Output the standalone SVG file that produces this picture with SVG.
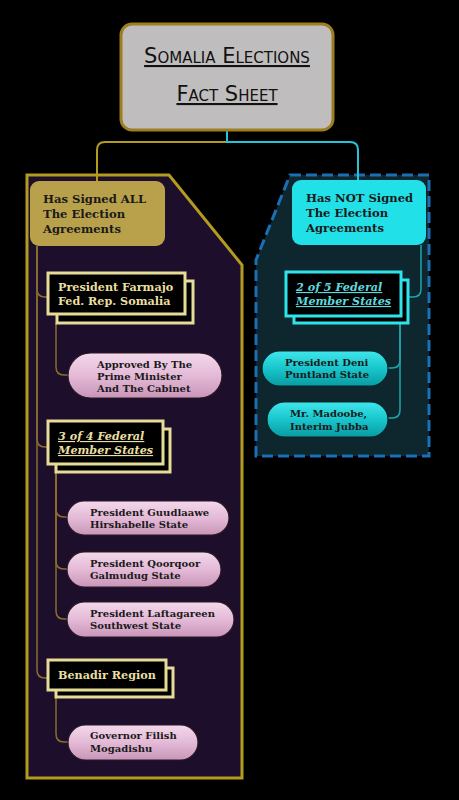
<svg xmlns="http://www.w3.org/2000/svg" width="459" height="800" viewBox="0 0 459 800">
<defs>
<linearGradient id="pink" x1="0" y1="0" x2="0" y2="1">
<stop offset="0" stop-color="#f3d8eb"/>
<stop offset="0.5" stop-color="#e4bad7"/>
<stop offset="1" stop-color="#c995b9"/>
</linearGradient>
<linearGradient id="cyan" x1="0" y1="0" x2="0" y2="1">
<stop offset="0" stop-color="#3fe6ea"/>
<stop offset="0.5" stop-color="#17c6cc"/>
<stop offset="1" stop-color="#0a9ba2"/>
</linearGradient>
<style>
.t{font-family:"DejaVu Serif","Liberation Serif",serif;font-weight:bold;}
.dark{fill:#1a1a1a;font-size:11.6px;}
.pl{fill:#1a1a1a;font-size:10px;}
.cream{fill:#e9dfa0;font-size:11.2px;}
.cy{fill:#5fd9df;font-size:11.2px;}
.it{font-style:italic;text-decoration:underline;}
.pill{fill:url(#pink);stroke:#2a1a24;stroke-width:1.2;}
.cpill{fill:url(#cyan);stroke:#06262a;stroke-width:1.2;}
.gbox{fill:#000;stroke:#e6dc98;stroke-width:3;}
.cbox{fill:#000;stroke:#2ee4ec;stroke-width:3;}
.gl{fill:none;stroke:#8b6d2e;stroke-width:1.5;}
.cl{fill:none;stroke:#1ba6ae;stroke-width:1.5;}
.ttl{font-family:"DejaVu Sans","Liberation Sans",sans-serif;font-size:21px;font-variant:small-caps;fill:#111;text-decoration:underline;}
</style>
</defs>
<rect width="459" height="800" fill="#000"/>

<g id="containers">
<path d="M27,175 H169 L242,265 V778 H27 Z" fill="#1d0e2b" stroke="#b39b1f" stroke-width="3"/>
<path d="M290,175 H429 V456 H256 V260 Z" fill="#0e262e" stroke="#1a6fb5" stroke-width="3" stroke-dasharray="11,5"/>
</g>

<g id="connectors">
<path d="M227,130 V142 H105 Q97,142 97,150 V181" fill="none" stroke="#b39b1f" stroke-width="2"/>
<path d="M227,130 V142 H350 Q358,142 358,150 V180" fill="none" stroke="#26c3d6" stroke-width="2"/>
<path class="gl" d="M37,246 V289 Q37,297 45,297 H48"/>
<path class="gl" d="M37,246 V439 Q37,447 45,447 H48"/>
<path class="gl" d="M37,246 V670 Q37,678 45,678 H48"/>
<path class="gl" d="M56,323 V367 Q56,375 64,375 H68"/>
<path class="gl" d="M56,472 V509 Q56,517 64,517 H67"/>
<path class="gl" d="M56,472 V561 Q56,569 64,569 H67"/>
<path class="gl" d="M56,472 V611 Q56,619 64,619 H67"/>
<path class="gl" d="M56,697 V734 Q56,742 64,742 H68"/>
<path class="cl" d="M421,245 V289 Q421,297 413,297 H408"/>
<path class="cl" d="M400,323 V360 Q400,368 392,368 H388"/>
<path class="cl" d="M400,323 V410 Q400,418 392,418 H388"/>
</g>

<g id="title">
<rect x="121" y="24" width="212" height="106" rx="11" fill="#c0bdbe" stroke="#9e7f1f" stroke-width="3"/>
<text class="ttl" x="227" y="63" text-anchor="middle">Somalia Elections</text>
<text class="ttl" x="227" y="101" text-anchor="middle">Fact Sheet</text>
</g>

<g id="signed">
<rect x="30" y="181" width="135" height="65" rx="9" fill="#b9a14c"/>
<text class="t dark" x="43" y="203">Has Signed ALL</text>
<text class="t dark" x="43" y="218">The Election</text>
<text class="t dark" x="43" y="233">Agreements</text>
</g>

<g id="farmajo">
<rect class="gbox" x="57" y="281" width="136" height="42"/>
<rect class="gbox" x="48" y="273" width="137" height="41"/>
<text class="t cream" x="58" y="291">President Farmajo</text>
<text class="t cream" x="58" y="305">Fed. Rep. Somalia</text>
</g>

<g id="approved">
<rect class="pill" x="68" y="353" width="154" height="45" rx="22.5"/>
<text class="t pl" x="97" y="368">Approved By The</text>
<text class="t pl" x="97" y="380">Prime Minister</text>
<text class="t pl" x="97" y="392">And The Cabinet</text>
</g>

<g id="three-of-four">
<rect class="gbox" x="56" y="429" width="114" height="43"/>
<rect class="gbox" x="48" y="421" width="115" height="43"/>
<text class="t cream it" x="58" y="440">3 of 4 Federal</text>
<text class="t cream it" x="58" y="454">Member States</text>
</g>

<g id="guudlaawe">
<rect class="pill" x="67" y="501" width="162" height="34" rx="17"/>
<text class="t pl" x="90" y="516">President Guudlaawe</text>
<text class="t pl" x="90" y="528">Hirshabelle State</text>
</g>

<g id="qoorqoor">
<rect class="pill" x="67" y="552" width="154" height="35" rx="17.5"/>
<text class="t pl" x="90" y="567">President Qoorqoor</text>
<text class="t pl" x="90" y="579">Galmudug State</text>
</g>

<g id="laftagareen">
<rect class="pill" x="67" y="602" width="167" height="35" rx="17.5"/>
<text class="t pl" x="90" y="617">President Laftagareen</text>
<text class="t pl" x="90" y="629">Southwest State</text>
</g>

<g id="benadir">
<rect class="gbox" x="56" y="668" width="117" height="29"/>
<rect class="gbox" x="48" y="660" width="118" height="30"/>
<text class="t cream" x="58" y="679">Benadir Region</text>
</g>

<g id="filish">
<rect class="pill" x="68" y="725" width="130" height="35" rx="17.5"/>
<text class="t pl" x="90" y="739">Governor Filish</text>
<text class="t pl" x="90" y="752">Mogadishu</text>
</g>

<g id="not-signed">
<rect x="292" y="180" width="134" height="65" rx="9" fill="#22e0e8"/>
<text class="t dark" x="306" y="202">Has NOT Signed</text>
<text class="t dark" x="306" y="217">The Election</text>
<text class="t dark" x="306" y="232">Agreements</text>
</g>

<g id="two-of-five">
<rect class="cbox" x="294" y="280" width="114" height="43"/>
<rect class="cbox" x="286" y="272" width="115" height="44"/>
<text class="t cy it" x="296" y="291">2 of 5 Federal</text>
<text class="t cy it" x="296" y="305">Member States</text>
</g>

<g id="deni">
<rect class="cpill" x="262" y="351" width="126" height="35" rx="17.5"/>
<text class="t pl" x="285" y="366">President Deni</text>
<text class="t pl" x="285" y="378">Puntland State</text>
</g>

<g id="madoobe">
<rect class="cpill" x="267" y="402" width="121" height="35" rx="17.5"/>
<text class="t pl" x="290" y="417">Mr. Madoobe,</text>
<text class="t pl" x="290" y="430">Interim Jubba</text>
</g>
</svg>
